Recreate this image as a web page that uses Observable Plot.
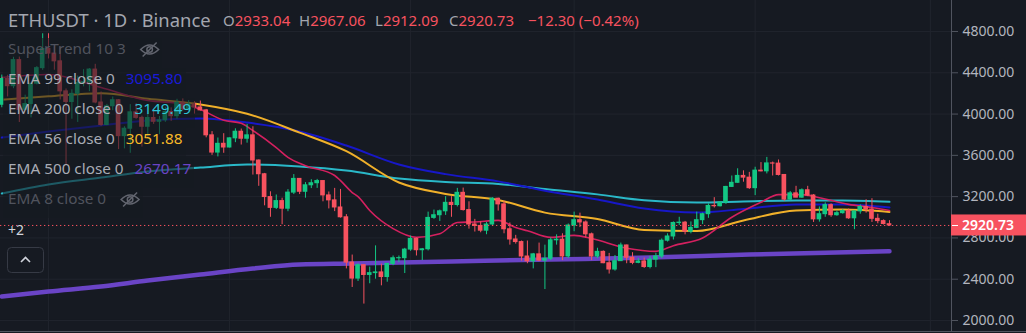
<!DOCTYPE html>
<html><head><meta charset="utf-8">
<script src="https://cdn.jsdelivr.net/npm/d3@7"></script>
<script src="https://cdn.jsdelivr.net/npm/@observablehq/plot@0.6"></script>
<style>
html,body{margin:0;padding:0;background:#161a22;}
#chart{position:relative;width:1026px;height:333px;overflow:hidden;background:#161a22;}
svg{display:block}
</style></head><body><div id="chart"></div>
<script>
// ---------- data (daily candles, index 0 = 2021-11-23 ... 152 = 2022-04-24) ----------
const title = "ETHUSDT · 1D · Binance";
const open = [4090,4340,4270,4523,4041,4097,4294,4445,4631,4586,4511,4220,4117,4196,4300,4310,4431,4112,3894,4076,4134,3786,3858,4017,3963,3877,3962,3925,3940,4020,3980,4110,4045,4094,4064,4036,3794,3627,3712,3676,3765,3829,3761,3794,3550,3417,3196,3091,3157,3083,3239,3372,3247,3310,3330,3351,3212,3164,3095,3000,2561,2406,2536,2441,2459,2466,2421,2548,2603,2604,2687,2791,2681,2690,2994,3020,3058,3140,3119,3237,3070,2930,2916,2870,2930,3180,3125,2884,2785,2760,2620,2573,2641,2580,2598,2777,2783,2620,2920,2972,2950,2835,2620,2665,2555,2494,2575,2727,2608,2558,2572,2518,2590,2620,2773,2814,2945,2948,2860,2897,2972,3030,3110,3107,3142,3294,3334,3401,3384,3282,3452,3445,3522,3520,3410,3171,3232,3190,3262,3211,2980,3030,3118,3020,3040,3060,2990,3057,3100,3075,2985,2963,2933.04];
const high = [4378,4376,4550,4552,4183,4296,4460,4778,4778,4650,4650,4243,4235,4369,4430,4441,4482,4214,4094,4165,4141,3877,4091,4100,3980,4000,4045,3977,4066,4060,4143,4147,4130,4120,4126,4045,3830,3768,3810,3769,3857,3855,3900,3877,3555,3425,3247,3216,3185,3268,3414,3375,3336,3364,3367,3352,3245,3280,3270,3026,2634,2549,2540,2517,2723,2546,2553,2625,2625,2699,2818,2800,2698,3050,3070,3070,3200,3200,3280,3283,3150,2980,2955,2950,3190,3185,3155,2945,2825,2770,2770,2650,2750,2730,2800,2830,2840,2935,3050,3040,2965,2847,2700,2674,2650,2630,2750,2730,2657,2600,2605,2620,2650,2790,2840,2955,3000,2960,2955,3050,3040,3130,3190,3150,3300,3400,3470,3450,3435,3485,3530,3580,3535,3555,3410,3250,3300,3275,3300,3220,3100,3140,3130,3060,3075,3080,3060,3120,3170,3180,3030,2975,2967.06];
const low = [4061,4166,4246,3918,4032,3963,4283,4424,4534,4425,4137,3500,3950,3919,4264,4217,4100,3881,3888,4033,3656,3663,3620,3950,3680,3776,3900,3800,3920,3930,3950,4032,4030,4000,4030,3770,3600,3585,3620,3672,3723,3700,3718,3409,3300,3111,3000,3075,2928,3054,3220,3220,3185,3278,3280,3150,3081,3055,2992,2500,2320,2378,2159,2356,2400,2336,2371,2531,2560,2455,2670,2625,2580,2674,2980,2960,3018,3000,3100,3060,2885,2857,2850,2831,2910,3060,2840,2730,2740,2575,2550,2500,2570,2300,2580,2730,2580,2600,2860,2900,2800,2580,2600,2550,2450,2478,2575,2550,2540,2550,2505,2500,2512,2600,2760,2780,2920,2830,2840,2890,2930,2990,3090,3100,3125,3290,3330,3340,3270,3210,3440,3420,3400,3400,3155,3160,3190,3185,3200,2950,2953,3000,3000,3010,3030,2980,2880,3030,3040,2950,2937,2925,2912.09];
const close = [4340,4270,4523,4041,4097,4294,4445,4631,4586,4511,4220,4117,4196,4300,4310,4431,4112,3894,4076,4134,3786,3858,4017,3963,3877,3962,3925,3940,4020,3980,4110,4045,4094,4064,4036,3794,3627,3712,3676,3765,3829,3761,3794,3550,3417,3196,3091,3157,3083,3239,3372,3247,3310,3330,3351,3212,3164,3095,3000,2561,2406,2536,2441,2459,2466,2421,2548,2603,2604,2687,2791,2681,2690,2994,3020,3058,3140,3119,3237,3070,2930,2916,2870,2930,3180,3125,2884,2785,2760,2620,2573,2641,2580,2598,2777,2783,2620,2920,2972,2950,2835,2620,2665,2555,2494,2575,2727,2608,2558,2572,2518,2590,2620,2773,2814,2945,2948,2860,2897,2972,3030,3110,3107,3142,3294,3334,3401,3384,3282,3452,3445,3522,3520,3410,3171,3232,3190,3262,3211,2980,3030,3118,3020,3040,3060,2990,3057,3100,3075,2985,2963,2935,2920.73];
const changeText = "\u221212.30 (\u22120.42%)";

const priceTicks = [2000,2400,2800,3200,3600,4000,4400,4800];
const monthStarts = [8,39,70,98,129,159]; // Dec 1, Jan 1, Feb 1, Mar 1, Apr 1, May 1

const emaIdx  = [0,8,17,25,34,42,51,59,68,76,85,93,102,110,119,127,136,144,152];
const ema99   = [3773,3831,3889,3938,3957,3918,3831,3695,3512,3418,3348,3258,3172,3085,3046,3080,3124,3124,3095.80];
const ema200  = [3230,3318,3385,3444,3482,3511,3492,3453,3376,3342,3323,3273,3222,3165,3143,3153,3163,3163,3149.49];
const ema56   = [4138,4172,4202,4148,4093,4003,3820,3640,3337,3226,3168,3045,2983,2877,2867,2969,3066,3075,3051.88];
const emaShortIdx = [0,8,17,25,31,34,38,41,43,47,49,52,57,58,60,61,63,67,71,75,78,81,85,88,90,94,98,101,107,112,115,120,125,130,133,137,140,145,149,152];
const emaShort    = [4354,4383,4257,4131,4100,4044,3940,3910,3840,3675,3580,3500,3405,3355,3240,3200,3065,2890,2805,2840,2950,2955,2970,2900,2870,2805,2825,2795,2700,2670,2725,2800,3000,3145,3220,3220,3190,3125,3095,3065];
const ema500Idx = [0,8,17,25,34,43,51,60,77,94,111,128,152];
const ema500    = [2232,2281,2329,2388,2446,2504,2543,2552,2572,2591,2610,2639,2670.17];

const legendRows = [
  {name:"SuperTrend 10 3", value:null, hidden:true},
  {name:"EMA 99 close 0", value:"3095.80", color:"#1a1ad8"},
  {name:"EMA 200 close 0", value:"3149.49", color:"#2ec4d6"},
  {name:"EMA 56 close 0", value:"3051.88", color:"#f7b928"},
  {name:"EMA 500 close 0", value:"2670.17", color:"#6a44c6"},
  {name:"EMA 8 close 0", value:null, hidden:true}
];

// ---------- build ----------
const UP = "#13c784", DOWN = "#f7525f", BG = "#161a22";
const candles = open.map((o,i)=>({i, o, h:high[i], l:low[i], c:close[i]}));
const pts = (idx, vals) => idx.map((i,k)=>({i, v:vals[k]}));
const last = candles[candles.length-1];

const chart = Plot.plot({
  width:1026, height:333,
  marginLeft:0, marginRight:75, marginTop:0, marginBottom:2,
  style:{background:BG, fontFamily:"'Noto Sans', sans-serif", overflow:"visible"},
  color:{type:"identity"},
  x:{type:"linear", domain:[-0.2226, 162.62], axis:null},
  y:{type:"linear", domain:[1893.4, 5100.3], axis:null},
  marks:[
    Plot.ruleY(priceTicks, {stroke:"#20242d", strokeWidth:1}),
    Plot.ruleX(monthStarts, {stroke:"#20242d", strokeWidth:1}),
    Plot.line(pts(ema500Idx, ema500), {x:"i", y:"v", stroke:"#6a44c6", strokeWidth:4.5, curve:"monotone-x"}),
    Plot.line(pts(emaIdx, ema200), {x:"i", y:"v", stroke:"#2ab8c8", strokeWidth:2, curve:"monotone-x"}),
    Plot.line(pts(emaIdx, ema99), {x:"i", y:"v", stroke:"#1717c8", strokeWidth:2, curve:"monotone-x"}),
    Plot.line(pts(emaIdx, ema56), {x:"i", y:"v", stroke:"#f0b02a", strokeWidth:2, curve:"monotone-x"}),
    Plot.line(pts(emaShortIdx, emaShort), {x:"i", y:"v", stroke:"#d4205f", strokeWidth:1.6, curve:"monotone-x"}),
    Plot.ruleX(candles, {x:"i", y1:"l", y2:"h", stroke:d=>d.c>=d.o?UP:DOWN, strokeWidth:1}),
    Plot.rect(candles, {x1:d=>d.i-0.4, x2:d=>d.i+0.4, y1:"o", y2:"c", fill:d=>d.c>=d.o?UP:DOWN, insetTop:-0.5, insetBottom:-0.5}),
    Plot.ruleY([last.c], {stroke:DOWN, strokeWidth:1, strokeDasharray:"1.3 2.7"}),
    Plot.axisY(priceTicks, {anchor:"right", tickSize:6, tickPadding:5, tickFormat:d=>d.toFixed(2), fontSize:14, fill:"#b2b5be", stroke:"#50545f"})
  ]
});
document.getElementById("chart").appendChild(chart);

// ---------- overlays (legend, header, price label) ----------
const svg = d3.select(chart);
const yS = chart.scale("y");
const FONT = "'Noto Sans', sans-serif";
const txt = (x, y, size, fill, s) => svg.append("text").attr("x",x).attr("y",y)
  .attr("text-anchor","start").attr("font-family",FONT).attr("font-size",size).attr("fill",fill).text(s);

// axis border lines
svg.append("line").attr("x1",951.5).attr("x2",951.5).attr("y1",0).attr("y2",331).attr("stroke","#50545f");
svg.append("line").attr("x1",0).attr("x2",1026).attr("y1",331.5).attr("y2",331.5).attr("stroke","#50545f");

// legend backdrop
const widths = [162,186,195,186,194,143];
let d = "";
widths.forEach((w,k)=>{ d += `M3,${38+30*k}H${w}V${68+30*k}H3Z`; });
svg.append("path").attr("d", d).attr("fill", BG).attr("fill-opacity", 0.6);

// header
txt(8, 26.5, 18.4, "#a3a6af", title);
const ohlc = [["O", open[open.length-1].toFixed(2), 223],["H", high[high.length-1].toFixed(2), 299],
              ["L", low[low.length-1].toFixed(2), 375],["C", close[close.length-1].toFixed(2), 449]];
ohlc.forEach(([k,v,x])=>{
  const t = txt(x, 26, 15, "#a3a6af", null);
  t.append("tspan").attr("fill","#a3a6af").text(k);
  t.append("tspan").attr("fill",DOWN).text(v);
});
txt(528, 26, 15, DOWN, changeText);

// legend rows
function eye(cx, cy){
  const g = svg.append("g").attr("fill","none").attr("stroke","#62656f").attr("stroke-width",1.5);
  g.append("path").attr("d",`M${cx-9},${cy}Q${cx},${cy-9} ${cx+9},${cy}Q${cx},${cy+9} ${cx-9},${cy}Z`);
  g.append("circle").attr("cx",cx).attr("cy",cy).attr("r",2.8);
  g.append("line").attr("x1",cx-7).attr("y1",cy+7).attr("x2",cx+7).attr("y2",cy-7);
}
legendRows.forEach((r,k)=>{
  const y = 54 + 30*k;
  const t = txt(8, y, 15.3, r.hidden ? "#50535d" : "#a9acb5", r.name);
  const w = t.node().getComputedTextLength();
  if (r.value) txt(8+w+11, y, 15.3, r.color, r.value);
  else eye(8+w+24, y-4.5);
});

// +2 and collapse button
txt(8, 235, 14, "#d1d4dc", "+2");
svg.append("rect").attr("x",7.5).attr("y",247.5).attr("width",36).attr("height",25).attr("rx",4)
  .attr("fill","none").attr("stroke","#363a45");
svg.append("path").attr("d","M21,262L25.5,257.5L30,262").attr("fill","none").attr("stroke","#d1d4dc").attr("stroke-width",1.6);

// last price label
const yl = yS.apply(last.c);
svg.append("rect").attr("x",951).attr("y",yl-10.5).attr("width",75).attr("height",21).attr("fill",DOWN);
svg.append("line").attr("x1",952).attr("x2",958).attr("y1",Math.round(yl)+0.5).attr("y2",Math.round(yl)+0.5).attr("stroke","#ffffff");
txt(962, yl, 14, "#ffffff", last.c.toFixed(2)).attr("dy","0.35em").attr("font-weight",600);
</script></body></html>
